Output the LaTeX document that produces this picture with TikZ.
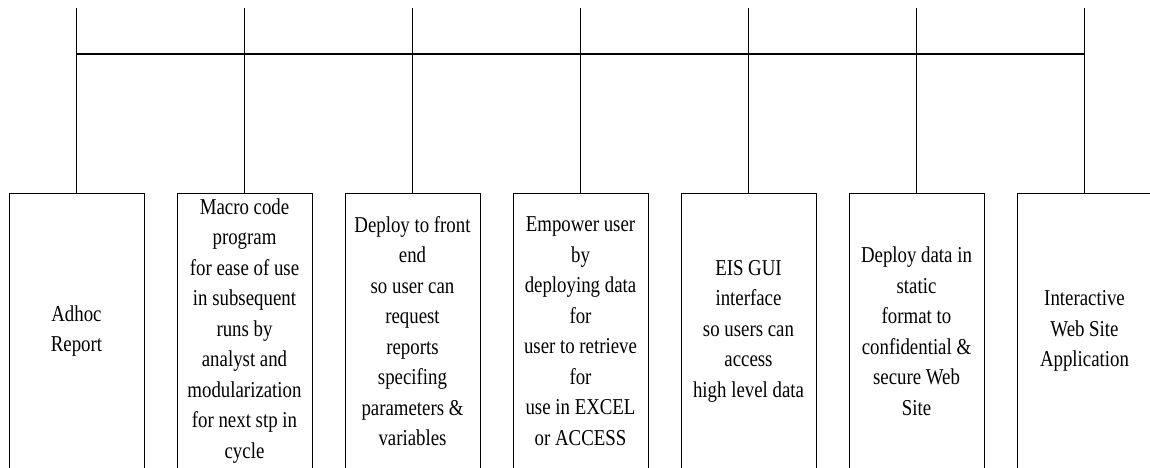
\documentclass[tikz,border=0pt]{standalone}
\usepackage{fontspec}
\newfontfamily\tnr[FakeStretch=0.83]{Liberation Serif}
\begin{document}
\begin{tikzpicture}[x=1pt,y=-1pt,
  boxnode/.style={draw=black,line width=1pt,minimum width=135pt,minimum height=300pt,anchor=north,inner sep=0pt,outer sep=0pt},
  txt/.style={align=center,inner sep=0pt,font={\tnr\fontsize{22.7}{30.5}\selectfont}},
  wire/.style={draw=black,line width=1.1pt}]
\useasboundingbox (0,0) rectangle (1150,468);
\clip (0,0) rectangle (1150,468);
\fill[white] (0,0) rectangle (1150,468);
% boxes
\node[boxnode] (b1) at (76.5,193) {};
\node[boxnode] (b2) at (244.5,193) {};
\node[boxnode] (b3) at (412.5,193) {};
\node[boxnode] (b4) at (580.5,193) {};
\node[boxnode] (b5) at (748.5,193) {};
\node[boxnode] (b6) at (916.5,193) {};
\node[boxnode] (b7) at (1084.5,193) {};
% texts
\node[txt] (t1) at (76.5,331) {Adhoc\\Report};
\node[txt] (t2) at (244.5,331) {Macro code\\program\\for ease of use\\in subsequent\\runs by\\analyst and\\modularization\\for next stp in\\cycle};
\node[txt] (t3) at (412.5,331) {Deploy to front\\end\\so user can\\request\\reports\\specifing\\parameters \&\\variables};
\node[txt] (t4) at (580.5,331) {Empower user\\by\\deploying data\\for\\user to retrieve\\for\\use in EXCEL\\or ACCESS};
\node[txt] (t5) at (748.5,331) {EIS GUI\\interface\\so users can\\access\\high level data};
\node[txt] (t6) at (916.5,331) {Deploy data in\\static\\format to\\confidential \&\\secure Web\\Site};
\node[txt] (t7) at (1084.5,331) {Interactive\\Web Site\\Application};
% connector ends
\foreach \i/\x in {1/76.5,2/244.5,3/412.5,4/580.5,5/748.5,6/916.5,7/1084.5}{
  \coordinate (top\i) at (\x,8);
  \coordinate (bus\i) at (\x,54);
}
\foreach \i in {1,...,7}{
  \draw[wire] (b\i.north) -- (top\i);
}
\draw[wire,line width=1.4pt] (bus1) -- (bus7);
\end{tikzpicture}
\end{document}
